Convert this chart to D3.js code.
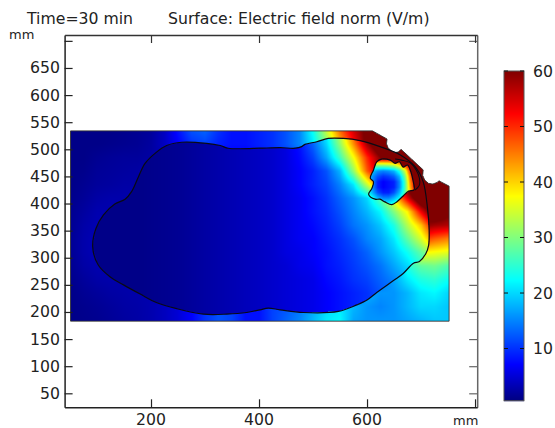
<!DOCTYPE html>
<html><head><meta charset="utf-8">
<script src="https://cdn.jsdelivr.net/npm/d3@7/dist/d3.min.js"></script>
<style>html,body{margin:0;padding:0;background:#fff;overflow:hidden}svg{display:block}text{font-family:"DejaVu Sans",sans-serif;fill:#222}</style>
</head><body><svg id="c" width="555" height="428"></svg>
<script>
const titleLeft = "Time=30 min";
const titleRight = "Surface: Electric field norm (V/m)";
const unitLabel = "mm";
const xTicks = [200,400,600,800];
const xLabelled = [200,400,600];
const yTicks = [50,100,150,200,250,300,350,400,450,500,550,600,650,700];
const yLabelled = [50,100,150,200,250,300,350,400,450,500,550,600,650];
const barTicks = [10,20,30,40,50,60];
const jetStops = [0,0.11,0.365,0.62,0.87,1];
const jetColors = ["#000080","#0000ff","#00ffff","#ffff00","#ff0000","#800000"];

// geometry outlines, in mm
const outerShape = [[51,534],[610,534],[637,519],[636,510],[639,503],[645,497],[652,494],[658,495],[663,500],[704,462],[703,452],[707,443],[714,437],[722,436],[730,439],[733,442],[752,432],[752,183],[51,183]];
const bodyShape = [[257,513],[303,511],[328,507],[343,502],[365,501],[402,502],[439,503],[467,502],[479,505],[485,509],[507,514],[528,520],[556,520],[587,516],[624,505],[661,490],[689,468],[704,440],[712,391],[715,351],[714,323],[709,308],[697,293],[686,290],[667,271],[649,258],[618,236],[600,222],[581,213],[547,201],[482,199],[439,204],[417,207],[402,204],[377,199],[340,196],[297,196],[248,206],[211,217],[180,233],[149,250],[124,265],[102,287],[92,320],[98,354],[112,379],[133,399],[152,408],[164,422],[177,450],[189,474],[208,493],[229,507]];
const inclusionShape = [[618,477],[627,482],[643,480],[652,474],[660,477],[667,467],[675,471],[681,459],[685,443],[687,425],[677,423],[667,414],[655,403],[646,398],[633,403],[624,408],[615,408],[603,417],[609,428],[612,440],[606,447],[612,462]];
const innerLine = [[652,482],[664,480],[680,475],[691,462],[697,447],[697,434],[689,425]];

// field samples (V/m): x 50..750 step 25, y 535..185 step -25
const gridX0 = 50, gridStep = 25, gridY0 = 535;
const outerField = [
[1,1,1,1,1.2,1.5,2,4,8,12,13,10,8,8,9,10,12,15,23,34,46,55,62,70,70,70,70,70,70],
[1,1,1,1.2,1.4,1.6,2.2,4,7,10,11,9,8,8,9,10,12,15,21,30,42,52,62,70,70,70,70,70,70],
[1,1,1.5,1.8,2,2,2.4,3,5,6,7,7,7,7,8,9,10,12,16,22,30,40,52,62,70,70,70,70,70],
[1,1.2,1.8,2,2.2,2.4,3,3,4,4,4,4,4,4,5,5,5.5,7,9,12,18,31,47,58,65,70,70,70,70],
[1,1.5,2,2.2,2.5,2.5,3,3,4,4,4,4,4,4,5,5,5.5,7,9,11,15,21,34,48,58,65,70,70,70],
[1.2,1.8,2.5,2.8,2.8,3,3,3,4,4,4,4,4,4,5,5,5.5,6.5,8,10,13,16,20,28,38,54,68,70,70],
[1.4,2.2,3,3,3,3,3,3,4,4,4,4,4,4,5,5,5.5,6.5,8,9.5,12,15,18,22,30,38,60,66,62],
[1.5,2.6,3.2,3,3,3,3,3,4,4,4,4,4,4,5,5,5.5,6.5,7.5,9,11,14,16,19,24,33,60,58,57],
[1.6,2.8,3.4,3,3,3,3,3,4,4,4,4,4,4,5,5,5.5,6.5,7,8.5,10,12,15,17,21,28,50,47,45],
[1.6,2.8,3.4,3,3,3,3,3,4,4,4,4,4,4,5,5,5.5,6,7,8,9.5,11,13,16,19,23,38,37,36],
[1.4,2.5,3,3,3,3,3,3,4,4,4,4,4,4,5,5,5.5,6,6.5,8,9,10.5,12,14,17,24,28,29,27],
[1.2,2,2.6,2.8,2.8,3,3,3,4,4,4,4,4,4,5,5,5.5,6,6.5,7.5,8.5,10,11,13,17,21,24,25,23],
[1,1.6,2,2.4,2.6,2.8,3,3.5,4,4,4,4,4,4,5,5,5.5,6,6.5,7,8,9,18,16,16,18,21,22,20],
[1,1.3,1.6,2,2.4,2.6,3,3.8,5,7,10,12,11,8,8,11,12,14,17,20,21,18,16,15,16,18,20,20,19],
[1,1.2,1.4,1.8,2.2,2.5,3,3.8,5,7,10,12,11,8,8,11,13,15,18,21,22,17,16,16,16,17,18,19,19]
];
const bodyField = [
[1,1,1,1,1,1,1.2,1.4,1.6,2,2.4,2.8,3.2,3.6,4,4.5,5.5,8,14,22,34,48,60,70,70,70,70,70,70],
[1,1,1,1,1,1,1.2,1.4,1.6,2,2.4,2.8,3.2,3.6,4,4.5,5.5,8,13,20,31,44,58,68,70,70,70,70,70],
[1,1,1,1,1,1,1.2,1.4,1.6,2,2.4,2.8,3.2,3.6,4,4.5,5.5,7.5,11,17,26,37,50,60,66,70,70,70,70],
[1,1,1,1,1,1,1.2,1.4,1.6,2,2.4,2.8,3.2,3.6,4,4.5,5.5,7,9,12,18,31,47,58,65,70,70,70,70],
[1,1,1,1,1,1,1.2,1.4,1.6,2,2.4,2.8,3.2,3.6,4,4.5,5.5,7,9,11,15,21,34,48,58,65,70,70,70],
[1,1,1,1,1,1,1.2,1.4,1.6,2,2.4,2.8,3.2,3.6,4,4.5,5.5,6.5,8,10,13,16,20,28,38,54,68,70,70],
[1,1,1,1,1,1,1.2,1.4,1.6,2,2.4,2.8,3.2,3.6,4,4.5,5.5,6.5,8,9.5,12,15,18,22,30,38,53,66,70],
[1,1,1,1,1,1,1.2,1.4,1.6,2,2.4,2.8,3.2,3.6,4,4.5,5.5,6.5,7.5,9,11,14,16,19,24,33,41,54,60],
[1,1,1,1,1,1,1.2,1.4,1.6,2,2.4,2.8,3.2,3.6,4,4.5,5.5,6.5,7,8.5,10,12,15,17,21,28,35,45,50],
[1,1,1,1,1,1,1.2,1.4,1.6,2,2.4,2.8,3.2,3.6,4,4.5,5.5,6,7,8,9.5,11,13,16,19,23,28,33,36],
[1,1,1,1,1,1,1.2,1.4,1.6,2,2.4,2.8,3.2,3.6,4,4.5,5,6,6.5,8,9,10.5,12,14,17,20,24,28,28],
[1,1,1,1,1,1,1.2,1.4,1.6,2,2.4,2.8,3.2,3.6,4,4.5,5,5.5,6,7.5,8.5,10,11,13,15,18,21,23,23],
[1,1,1,1,1,1,1.2,1.4,1.6,2,2.4,2.8,3.2,3.6,4,4.5,5,5.5,6,7,8,9,10,12,14,16,18,20,20],
[1,1,1,1,1,1,1.2,1.4,1.6,2,2.4,2.8,3.2,3.6,4,4.5,5,5.5,6,7,8,9,10,11,12,14,16,18,18],
[1,1,1,1,1,1,1.2,1.4,1.6,2,2.4,2.8,3.2,3.6,4,4.5,5,5.5,6,7,8,9,10,11,12,14,16,18,18]
];
// inclusion samples: x 600..690 step 10, y 480..390 step -10
const incX0 = 600, incStep = 10, incY0 = 480;
const inclusionField = [
[50,50,50,50,50,50,54,58,62,65],
[30,30,30,30,31,33,38,47,56,62],
[22,19,16,15,16,18,24,34,50,60],
[21,16,12,10,11,13,18,29,46,58],
[21,16,9,7,8,9,15,26,44,55],
[22,16,9,7,8,9,15,26,42,54],
[24,18,12,9,9,12,18,27,40,50],
[27,23,18,15,15,18,22,30,40,50],
[30,26,23,22,22,24,28,33,42,50],
[30,26,23,22,22,24,28,33,42,50]
];

const x = d3.scaleLinear().domain([40,804]).range([64.6,477.2]);
const y = d3.scaleLinear().domain([24.2,710.8]).range([407.3,35]);
const barScale = d3.scaleLinear().domain([0.6,60]).range([400.7,71]);
const jet = d3.scaleLinear().domain(jetStops).range(jetColors).clamp(true);
const colorOf = v => jet((v-0.6)/59.4);
const svg = d3.select("#c");

function sample(g,x0,y0,step,mx,my){
  const R=g.length-1,C=g[0].length-1;
  const fx=Math.max(0,Math.min(C,(mx-x0)/step)), fy=Math.max(0,Math.min(R,(y0-my)/step));
  const i=Math.min(C-1,Math.floor(fx)), j=Math.min(R-1,Math.floor(fy)), a=fx-i, b=fy-j;
  return (g[j][i]*(1-a)+g[j][i+1]*a)*(1-b)+(g[j+1][i]*(1-a)+g[j+1][i+1]*a)*b;
}
// field image
const SS=2, W=555, H=428;
const cv=document.createElement("canvas"); cv.width=W*SS; cv.height=H*SS;
const ctx=cv.getContext("2d"), img=ctx.createImageData(cv.width,cv.height);
for(let py=Math.floor(y(540)*SS);py<y(180)*SS;py++){
  for(let px=Math.floor(x(48)*SS);px<x(755)*SS;px++){
    const mx=x.invert((px+.5)/SS), my=y.invert((py+.5)/SS);
    const p=[mx,my];
    if(!d3.polygonContains(outerShape,p)) continue;
    let v;
    if(d3.polygonContains(inclusionShape,p)) v=sample(inclusionField,incX0,incY0,incStep,mx,my);
    else if(d3.polygonContains(bodyShape,p)) v=sample(bodyField,gridX0,gridY0,gridStep,mx,my);
    else v=sample(outerField,gridX0,gridY0,gridStep,mx,my);
    const c=d3.rgb(colorOf(v)), k=(py*cv.width+px)*4;
    img.data[k]=c.r;img.data[k+1]=c.g;img.data[k+2]=c.b;img.data[k+3]=255;
  }
}
ctx.putImageData(img,0,0);
svg.append("image").attr("x",0).attr("y",0).attr("width",W).attr("height",H).attr("href",cv.toDataURL());

const line=d3.line().x(d=>x(d[0])).y(d=>y(d[1]));
const smooth=d3.line().x(d=>x(d[0])).y(d=>y(d[1])).curve(d3.curveCatmullRomClosed.alpha(.5));
svg.append("path").attr("d",line(outerShape)+"Z").attr("fill","none").attr("stroke","#333").attr("stroke-width",.9);
svg.append("path").attr("d",smooth(bodyShape)).attr("fill","none").attr("stroke","#0a0a14").attr("stroke-width",1.2);
svg.append("path").attr("d",smooth(inclusionShape)).attr("fill","none").attr("stroke","#0a0a14").attr("stroke-width",1.2);
svg.append("path").attr("d",d3.line().x(d=>x(d[0])).y(d=>y(d[1])).curve(d3.curveCatmullRom)(innerLine)).attr("fill","none").attr("stroke","#0a0a14").attr("stroke-width",1.1);

// axes
function styleAxis(g,col){g.select(".domain").attr("stroke",col).attr("stroke-width",1.5);g.selectAll("line").attr("stroke",col).attr("stroke-width",1.2);}
const L=x.range()[0],Rr=x.range()[1],B=y.range()[0],T=y.range()[1];
svg.append("g").attr("transform",`translate(${L},0)`).call(d3.axisRight(y).tickValues(yTicks).tickSize(8).tickSizeOuter(0).tickFormat("")).call(g=>styleAxis(g,"#222"));
svg.append("g").attr("transform",`translate(${Rr},0)`).call(d3.axisLeft(y).tickValues(yTicks).tickSize(8).tickSizeOuter(0).tickFormat("")).call(g=>styleAxis(g,"#666"));
svg.append("g").attr("transform",`translate(0,${B})`).call(d3.axisTop(x).tickValues(xTicks).tickSize(8).tickSizeOuter(0).tickFormat("")).call(g=>styleAxis(g,"#222"));
svg.append("g").attr("transform",`translate(0,${T})`).call(d3.axisBottom(x).tickValues(xTicks).tickSize(8).tickSizeOuter(0).tickFormat("")).call(g=>styleAxis(g,"#333"));
svg.append("g").selectAll("text").data(yLabelled).join("text").attr("x",60).attr("y",d=>y(d)+5.5).attr("text-anchor","end").attr("font-size",15.7).text(d=>d);
svg.append("g").selectAll("text").data(xLabelled).join("text").attr("x",d=>x(d)).attr("y",424.5).attr("text-anchor","middle").attr("font-size",15.7).text(d=>d);

// titles
svg.append("text").attr("x",27).attr("y",24).attr("font-size",15.7).text(titleLeft);
svg.append("text").attr("x",168).attr("y",24).attr("font-size",15.7).text(titleRight);
svg.append("text").attr("x",9).attr("y",39).attr("font-size",13).text(unitLabel);
svg.append("text").attr("x",453).attr("y",424.5).attr("font-size",13).text(unitLabel);

// colour bar
const barL=504,barR=524;
const barVals=d3.range(Math.round(barScale(60)),Math.round(barScale(0.6))).map(p=>barScale.invert(p+.5));
svg.append("g").selectAll("rect").data(barVals).join("rect").attr("x",barL).attr("width",barR-barL).attr("y",d=>barScale(d)-.5).attr("height",1.2).attr("fill",d=>colorOf(d));
svg.append("rect").attr("x",barL).attr("y",barScale(60)).attr("width",barR-barL).attr("height",barScale(0.6)-barScale(60)).attr("fill","none").attr("stroke","#555").attr("stroke-width",1);
const bt=svg.append("g");
bt.selectAll("line.l").data(barTicks).join("line").attr("class","l").attr("x1",barL).attr("x2",barL+4).attr("y1",d=>barScale(d)).attr("y2",d=>barScale(d)).attr("stroke","#111");
bt.selectAll("line.r").data(barTicks).join("line").attr("class","r").attr("x1",barR-4).attr("x2",barR).attr("y1",d=>barScale(d)).attr("y2",d=>barScale(d)).attr("stroke","#111");
bt.selectAll("text").data(barTicks).join("text").attr("x",533).attr("y",d=>barScale(d)+5.5).attr("font-size",15.7).text(d=>d);
</script></body></html>
